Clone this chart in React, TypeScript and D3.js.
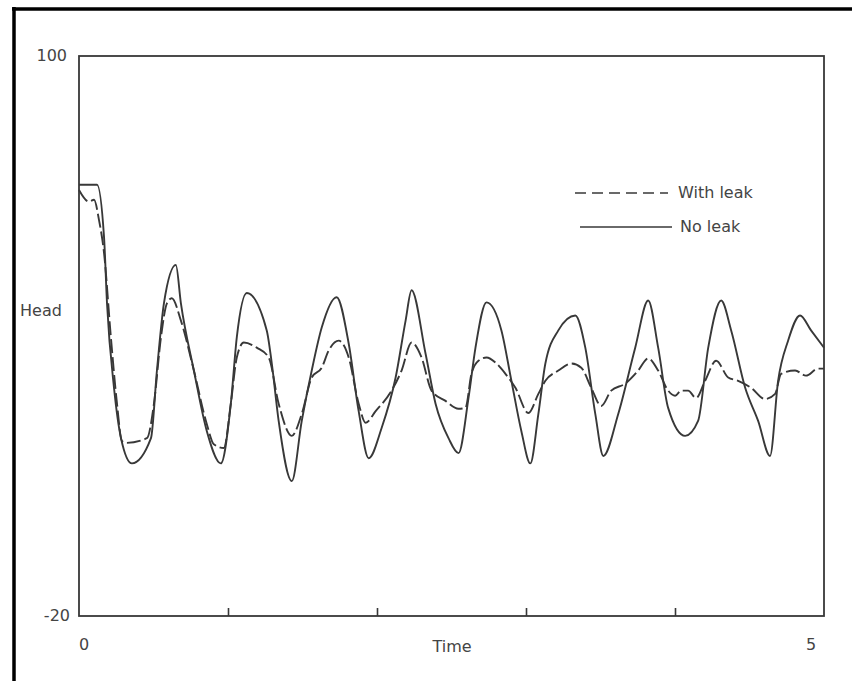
import { useEffect, useRef } from "react";
import * as d3 from "d3";

const width = 852;
const height = 681;
const marginLeft = 79;
const marginRight = 28;
const marginTop = 56;
const marginBottom = 65;

const inkColor = "#383838";

// Time / head samples
const noLeakTime = [
  0, 0.121, 0.168, 0.188, 0.235, 0.282, 0.355, 0.483, 0.523, 0.57, 0.65, 0.684,
  0.771, 0.858, 0.952, 1.019, 1.059, 1.126, 1.26, 1.294, 1.34, 1.428, 1.495,
  1.562, 1.629, 1.729, 1.81, 1.877, 1.944, 2.031, 2.125, 2.192, 2.232, 2.326,
  2.393, 2.48, 2.547, 2.614, 2.661, 2.735, 2.835, 2.902, 2.969, 3.029, 3.083,
  3.13, 3.217, 3.331, 3.398, 3.465, 3.519, 3.619, 3.733, 3.82, 3.887, 3.954,
  4.068, 4.155, 4.223, 4.31, 4.377, 4.471, 4.558, 4.638, 4.692, 4.759, 4.839,
  4.913, 5.0,
];
const noLeakHead = [
  72.4, 72.4, 61.2, 47.0, 28.9, 18.1, 12.7, 18.1, 32.6, 47.0, 55.2, 47.0, 32.6,
  19.6, 12.7, 25.5, 39.7, 49.2, 41.2, 34.1, 21.8, 8.9, 21.8, 32.6, 41.8, 48.3,
  38.4, 23.9, 13.8, 20.3, 31.1, 43.3, 49.8, 36.2, 25.5, 18.1, 14.9, 26.7, 37.5,
  47.2, 41.2, 30.4, 19.6, 12.7, 23.3, 34.1, 41.2, 44.4, 37.5, 23.3, 14.3, 23.3,
  37.5, 47.6, 37.5, 24.6, 18.6, 21.8, 37.5, 47.6, 41.2, 28.9, 21.8, 14.3, 30.4,
  39.0, 44.4, 41.2, 37.5,
];

const withLeakTime = [
  0, 0.067, 0.101, 0.134, 0.168, 0.214, 0.255, 0.288, 0.322, 0.456, 0.503,
  0.55, 0.59, 0.623, 0.684, 0.771, 0.858, 0.905, 0.972, 1.019, 1.059, 1.106,
  1.193, 1.273, 1.34, 1.428, 1.495, 1.562, 1.629, 1.676, 1.743, 1.81, 1.877,
  1.924, 1.991, 2.098, 2.165, 2.232, 2.299, 2.366, 2.46, 2.547, 2.594, 2.634,
  2.681, 2.735, 2.802, 2.862, 2.929, 3.016, 3.083, 3.13, 3.217, 3.304, 3.371,
  3.438, 3.505, 3.572, 3.666, 3.753, 3.82, 3.887, 3.954, 4.001, 4.042, 4.088,
  4.142, 4.202, 4.276, 4.357, 4.424, 4.511, 4.605, 4.672, 4.712, 4.806, 4.879,
  4.96, 5.0,
];
const withLeakHead = [
  71.3, 68.8, 69.2, 64.9, 57.8, 39.7, 25.5, 17.5, 17.1, 18.1, 25.5, 39.7, 47.0,
  48.1, 43.3, 32.6, 21.1, 16.8, 16.0, 25.5, 35.4, 38.6, 37.5, 35.4, 25.5, 18.6,
  23.3, 31.1, 33.2, 36.9, 39.0, 35.4, 25.5, 21.4, 23.9, 28.3, 32.6, 38.6, 35.4,
  28.3, 26.1, 24.4, 24.6, 31.9, 34.7, 35.4, 34.1, 31.9, 28.9, 23.5, 27.6, 30.4,
  32.6, 34.1, 33.2, 28.9, 25.0, 28.3, 29.8, 32.6, 35.2, 32.6, 28.3, 27.2, 28.3,
  28.3, 26.7, 30.4, 34.7, 31.1, 30.4, 28.9, 26.5, 27.6, 31.9, 32.6, 31.5, 33.0,
  33.0,
];

const xDomain = [0, 5];
const yDomain = [-20, 100];
const innerTicks = [1, 2, 3, 4];

const legendItems = [
  { label: "With leak", dash: "11,6" },
  { label: "No leak", dash: null },
];

const fontFamily = "'DejaVu Sans', Verdana, sans-serif";

const App = () => {
  const axisRef = useRef<SVGGElement>(null);

  const xScale = d3
    .scaleLinear()
    .domain(xDomain)
    .range([marginLeft, width - marginRight]);
  const yScale = d3
    .scaleLinear()
    .domain(yDomain)
    .range([height - marginBottom, marginTop]);

  const line = d3
    .line<number>()
    .x((d) => xScale(d))
    .curve(d3.curveMonotoneX);

  const noLeakPath = line.y((_, i) => yScale(noLeakHead[i]))(noLeakTime);
  const withLeakPath = line.y((_, i) => yScale(withLeakHead[i]))(withLeakTime);

  // ticks point up into the plot from the bottom edge
  useEffect(() => {
    const g = d3.select(axisRef.current);
    g.call(
      d3
        .axisTop(xScale)
        .tickValues(innerTicks)
        .tickSize(8)
        .tickSizeOuter(0)
        .tickFormat(() => "")
    );
    g.select(".domain").remove();
    g.selectAll(".tick line")
      .attr("stroke", inkColor)
      .attr("stroke-width", 1.6);
  }, []);

  const x0 = xScale(0);
  const x5 = xScale(5);
  const yTop = yScale(100);
  const yBot = yScale(-20);

  return (
    <svg
      width={width}
      height={height}
      viewBox={`0 0 ${width} ${height}`}
      style={{ position: "absolute", left: 0, top: 0, background: "#fff" }}
      fontFamily={fontFamily}
    >
      {/* outer frame of the scan */}
      <line x1={12} x2={width} y1={9} y2={9} stroke="#000" strokeWidth={3.5} />
      <line x1={14} x2={14} y1={7} y2={height} stroke="#000" strokeWidth={3.5} />

      {/* plot box */}
      <rect
        x={x0}
        y={yTop}
        width={x5 - x0}
        height={yBot - yTop}
        fill="none"
        stroke={inkColor}
        strokeWidth={1.8}
      />
      <g ref={axisRef} transform={`translate(0,${yBot})`} />

      {/* series */}
      <path
        d={withLeakPath ?? ""}
        fill="none"
        stroke={inkColor}
        strokeWidth={1.9}
        strokeDasharray="14,4"
      />
      <path d={noLeakPath ?? ""} fill="none" stroke={inkColor} strokeWidth={1.9} />

      {/* axis labels */}
      <g fill="#444" fontSize={16}>
        <text x={x0 - 12} y={yTop} textAnchor="end" dominantBaseline="middle">
          100
        </text>
        <text x={x0 - 9} y={yBot} textAnchor="end" dominantBaseline="middle">
          -20
        </text>
        <text x={x0 + 5} y={645} textAnchor="middle" dominantBaseline="middle">
          0
        </text>
        <text x={x5 - 13} y={645} textAnchor="middle" dominantBaseline="middle">
          5
        </text>
        <text x={452} y={647} textAnchor="middle" dominantBaseline="middle">
          Time
        </text>
        <text x={20} y={311} dominantBaseline="middle">
          Head
        </text>
      </g>

      {/* legend */}
      <g fill="#444" fontSize={16}>
        {legendItems.map((d, i) => {
          const ly = 193 + i * 34;
          return (
            <g key={d.label}>
              <line
                x1={575 + i * 5}
                x2={668 + i * 4}
                y1={ly}
                y2={ly}
                stroke={inkColor}
                strokeWidth={1.6}
                strokeDasharray={d.dash ?? undefined}
              />
              <text x={678 + i * 2} y={ly} dominantBaseline="middle">
                {d.label}
              </text>
            </g>
          );
        })}
      </g>
    </svg>
  );
};

export default App;
